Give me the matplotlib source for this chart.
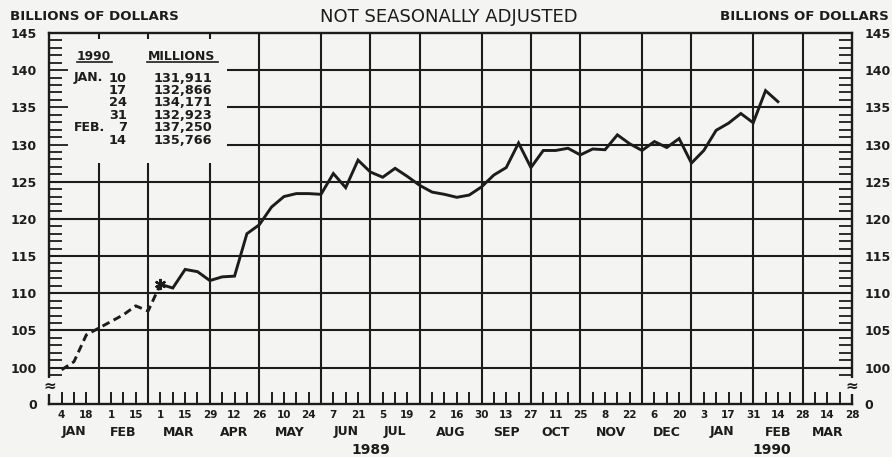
import matplotlib
matplotlib.use('Agg')
import matplotlib.pyplot as plt
import matplotlib.dates as mdates
from matplotlib.lines import Line2D
import pandas as pd

# ---------------- data ----------------
dashed_start = '1989-01-04'
dashed_vals = [99.7, 100.8, 104.4, 105.3, 106.2, 107.1, 108.3, 107.6, 111.2]
solid_start = '1989-03-01'
solid_vals = [111.2, 110.7, 113.2, 112.9, 111.7, 112.2, 112.3, 118.0, 119.2,
              121.6, 123.0, 123.4, 123.4, 123.3, 126.1, 124.2, 127.9, 126.3,
              125.6, 126.8, 125.7, 124.5, 123.6, 123.3, 122.9, 123.2, 124.3,
              125.9, 126.9, 130.2, 126.9, 129.2, 129.2, 129.5, 128.6, 129.4,
              129.3, 131.3, 130.1, 129.2, 130.4, 129.6, 130.8, 127.5, 129.2,
              131.911, 132.866, 134.171, 132.923, 137.250, 135.766]
table_months = ['JAN.', '', '', '', 'FEB.', '']
table_days = ['10', '17', '24', '31', '7', '14']
table_vals = ['131,911', '132,866', '134,171', '132,923', '137,250', '135,766']
month_names = ['JAN', 'FEB', 'MAR', 'APR', 'MAY', 'JUN', 'JUL', 'AUG', 'SEP',
               'OCT', 'NOV', 'DEC', 'JAN', 'FEB', 'MAR']
year_labels = ['1989', '1990']
ytick_vals = [100, 105, 110, 115, 120, 125, 130, 135, 140, 145]

# ---------------- setup ----------------
W, H = 892, 457
BG = '#f4f4f2'
INK = '#1c1c1c'
plt.rcParams['font.family'] = ['DejaVu Sans']
plt.rcParams['font.weight'] = 'bold'

def fx(x):
    return x / W

def fy(y):
    return 1 - y / H

AX_L, AX_R, AX_T, AX_B = 49.3, 852.0, 33.0, 404.0
YMIN, YMAX = 95.1, 145.0

fig = plt.figure(figsize=(W / 100, H / 100), dpi=100, facecolor=BG)
ax = fig.add_axes([fx(AX_L), fy(AX_B), (AX_R - AX_L) / W, (AX_B - AX_T) / H])
ax.set_facecolor(BG)

x0 = pd.Timestamp('1988-12-28')
x1 = pd.Timestamp('1990-03-28')
ax.set_xlim(mdates.date2num(x0), mdates.date2num(x1))
ax.set_ylim(YMIN, YMAX)

for s in ax.spines.values():
    s.set_linewidth(1.7)
    s.set_color(INK)

weeks = pd.date_range('1989-01-04', '1990-03-28', freq='7D')
is_end = [(w + pd.Timedelta(days=7)).month != w.month for w in weeks]

px_per_unit = (AX_B - AX_T) / (YMAX - YMIN)
legend_clear_y = 127.5
legend_clear_x = pd.Timestamp('1989-04-08')
short_cols = [pd.Timestamp('1989-01-25'), pd.Timestamp('1989-02-22'), pd.Timestamp('1989-03-29')]

# vertical gridlines (month ends) and weekly ticks
for w, e in zip(weeks, is_end):
    if w == x1:
        continue
    if e:
        if w in short_cols:
            ax.vlines(w, YMIN, legend_clear_y, color=INK, lw=1.5)
            ax.vlines(w, YMAX - 6 / px_per_unit, YMAX, color=INK, lw=1.5)
        else:
            ax.vlines(w, YMIN, YMAX, color=INK, lw=1.5)
    else:
        ax.vlines(w, YMIN, YMIN + 12 / px_per_unit, color=INK, lw=1.4)

# horizontal gridlines
for v in ytick_vals[:-1]:
    if v >= 130:
        ax.hlines(v, legend_clear_x, x1, color=INK, lw=1.5)
    else:
        ax.hlines(v, x0, x1, color=INK, lw=1.5)

# y ticks
ax.set_yticks(list(range(99, 146)), minor=True)
ax.set_yticks([YMIN] + ytick_vals)
ax.set_yticklabels(['0'] + [str(v) for v in ytick_vals])
ax.tick_params(axis='y', which='minor', direction='in', length=9.5, width=1.3,
               left=True, right=True, color=INK)
ax.tick_params(axis='y', which='major', direction='in', length=14, width=1.3,
               left=True, right=True, labelleft=True, labelright=True,
               labelsize=9, pad=9, colors=INK)
t0 = ax.yaxis.get_major_ticks()[0]
t0.tick1line.set_visible(False)
t0.tick2line.set_visible(False)
ax.set_xticks([])

# data lines
ax.plot(pd.date_range(dashed_start, periods=len(dashed_vals), freq='7D'), dashed_vals,
        color=INK, lw=2.1, ls=(0, (2.7, 1.6)), solid_capstyle='butt', zorder=5)
sd = pd.date_range(solid_start, periods=len(solid_vals), freq='7D')
ax.plot(sd, solid_vals, color=INK, lw=2.1, solid_joinstyle='miter', zorder=5)
ax.plot(sd[0], solid_vals[0], marker=(6, 2, 0), ms=8, mew=1.6, color=INK, zorder=6)

# axis break marks
for xb in (x0, x1):
    ax.text(xb, 97.5, '≈', ha='center', va='center', fontsize=11, color=INK,
            transform=ax.transData, zorder=10, clip_on=False,
            bbox=dict(boxstyle='square,pad=0.05', fc=BG, ec='none'))

# x labels
xt = ax.get_xaxis_transform()
def ay(ypx):
    return (AX_B - ypx) / (AX_B - AX_T)

for w in weeks[::2]:
    ax.text(w, ay(415), str(w.day), ha='center', va='center', fontsize=7.5,
            color=INK, transform=xt)

ends = [x0] + [w for w, e in zip(weeks, is_end) if e]
for i, name in enumerate(month_names):
    mid = ends[i] + (ends[i + 1] - ends[i]) / 2
    ax.text(mid, ay(432), name, ha='center', va='center', fontsize=9,
            color=INK, transform=xt)

ye = pd.Timestamp('1989-12-27')
for lab, (a, b) in zip(year_labels, [(x0, ye), (ye, x1)]):
    ax.text(a + (b - a) / 2, ay(450), lab, ha='center', va='center', fontsize=10,
            color=INK, transform=xt)

# header texts
fig.text(fx(10), fy(17), 'BILLIONS OF DOLLARS', ha='left', va='center', fontsize=9.6, color=INK)
fig.text(fx(889), fy(17), 'BILLIONS OF DOLLARS', ha='right', va='center', fontsize=9.6, color=INK)
fig.text(fx(449), fy(17), 'NOT SEASONALLY ADJUSTED', ha='center', va='center',
         fontsize=13, fontweight='normal', color=INK)

# legend table
fig.text(fx(94), fy(56), '1990', ha='center', va='center', fontsize=8.8, color=INK)
fig.text(fx(182), fy(56), 'MILLIONS', ha='center', va='center', fontsize=9, color=INK)
for xa, xb in ((77, 112), (147, 218)):
    fig.add_artist(Line2D([fx(xa), fx(xb)], [fy(62), fy(62)], color=INK, lw=1.2))
for i in range(len(table_vals)):
    yy = fy(78 + i * 12.4)
    if table_months[i]:
        fig.text(fx(74), yy, table_months[i], ha='left', va='center', fontsize=9, color=INK)
    fig.text(fx(127), yy, table_days[i], ha='right', va='center', fontsize=9.3, color=INK)
    fig.text(fx(212), yy, table_vals[i], ha='right', va='center', fontsize=9.3, color=INK)

fig.savefig('out.png', dpi=100, facecolor=BG)
